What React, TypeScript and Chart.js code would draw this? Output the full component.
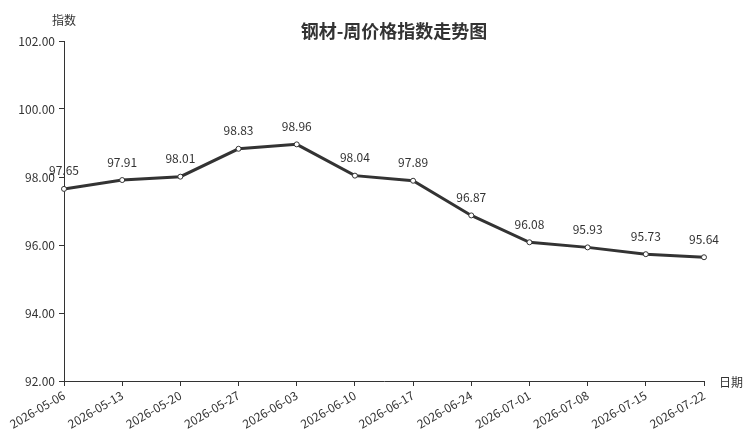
import React, { useEffect, useRef } from "react";
import { Chart, registerables } from "chart.js";

Chart.register(...registerables);

const categories = [
  "2026-05-06", "2026-05-13", "2026-05-20", "2026-05-27", "2026-06-03", "2026-06-10",
  "2026-06-17", "2026-06-24", "2026-07-01", "2026-07-08", "2026-07-15", "2026-07-22",
];
const values = [97.65, 97.91, 98.01, 98.83, 98.96, 98.04, 97.89, 96.87, 96.08, 95.93, 95.73, 95.64];
const yMin = 92;
const yMax = 102;
const yStep = 2;
const titleText = "钢材-周价格指数走势图";
const yName = "指数";
const xName = "日期";

const FONT = "'Noto Sans CJK SC', 'Noto Sans', sans-serif";

const overlay = {
  id: "overlay",
  afterDatasetsDraw(chart: any) {
    const ctx = chart.ctx;
    const meta = chart.getDatasetMeta(0);
    ctx.save();
    ctx.fillStyle = "#333";
    ctx.font = `12px ${FONT}`;
    ctx.textAlign = "center";
    ctx.textBaseline = "middle";
    meta.data.forEach((pt: any, i: number) => {
      ctx.fillText(values[i].toFixed(2), pt.x, pt.y - 18);
    });
    ctx.font = `bold 18px ${FONT}`;
    ctx.fillText(titleText, 394, 31);
    ctx.font = `12px ${FONT}`;
    ctx.fillText(yName, 64, 20);
    ctx.textAlign = "left";
    ctx.fillText(xName, 719, 382);
    ctx.restore();
  },
};

export default function App() {
  const ref = useRef<HTMLCanvasElement | null>(null);
  useEffect(() => {
    if (!ref.current) return;
    const chart = new Chart(ref.current, {
      type: "line",
      data: {
        labels: categories,
        datasets: [
          {
            data: values,
            borderColor: "#333",
            borderWidth: 3,
            pointRadius: 2.5,
            pointBackgroundColor: "#fff",
            pointBorderColor: "#333",
            pointBorderWidth: 1,
            tension: 0,
          },
        ],
      },
      options: {
        responsive: false,
        animation: false,
        layout: { padding: { top: 41, right: 46, left: 0, bottom: 0 } },
        plugins: { legend: { display: false }, title: { display: false }, tooltip: { enabled: false } },
        scales: {
          x: {
            offset: false,
            grid: { drawOnChartArea: false, drawTicks: true, tickLength: 5, color: "#333" },
            border: { color: "#333", width: 1 },
            ticks: {
              color: "#333",
              font: { size: 12, family: FONT },
              maxRotation: 30,
              minRotation: 30,
              autoSkip: false,
              padding: 2,
            },
            afterFit(scale: any) {
              scale.height = 49;
              scale.paddingLeft = 0;
              scale.paddingRight = 0;
            },
          },
          y: {
            min: yMin,
            max: yMax,
            grid: { drawOnChartArea: false, drawTicks: true, tickLength: 5, color: "#333" },
            border: { color: "#333", width: 1 },
            ticks: {
              stepSize: yStep,
              color: "#333",
              font: { size: 12, family: FONT },
              padding: 4,
              callback: (v: any) => Number(v).toFixed(2),
            },
            afterFit(scale: any) {
              scale.width = 64;
            },
          },
        },
      },
      plugins: [overlay],
    });
    return () => chart.destroy();
  }, []);
  return (
    <div style={{ position: "absolute", left: 0, top: 0, width: 750, height: 430, background: "#fff" }}>
      <canvas ref={ref} width={750} height={430} style={{ width: 750, height: 430 }} />
    </div>
  );
}
